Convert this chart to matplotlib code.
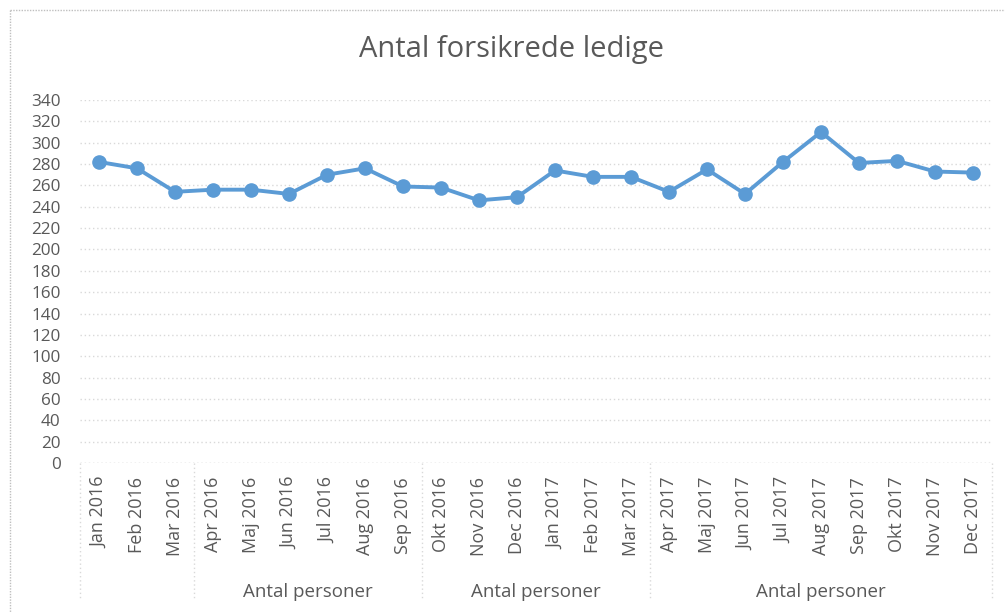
import matplotlib
matplotlib.use("Agg")
import matplotlib.pyplot as plt
from matplotlib.transforms import blended_transform_factory
from matplotlib.lines import Line2D

months = ["Jan 2016", "Feb 2016", "Mar 2016", "Apr 2016", "Maj 2016", "Jun 2016",
          "Jul 2016", "Aug 2016", "Sep 2016", "Okt 2016", "Nov 2016", "Dec 2016",
          "Jan 2017", "Feb 2017", "Mar 2017", "Apr 2017", "Maj 2017", "Jun 2017",
          "Jul 2017", "Aug 2017", "Sep 2017", "Okt 2017", "Nov 2017", "Dec 2017"]
values = [282, 276, 254, 256, 256, 252, 270, 276, 259, 258, 246, 249,
          274, 268, 268, 254, 275, 252, 282, 310, 281, 283, 273, 272]
group_bounds = [0, 3, 9, 15, 24]          # category index boundaries
group_labels = ["", "Antal personer", "Antal personer", "Antal personer"]
yticks = list(range(0, 341, 20))
title = "Antal forsikrede ledige"

TXT = "#595959"
GRID = "#D9D9D9"
BLUE = "#5B9BD5"
FONT = "Open Sans"

W, H = 1005, 613
fig = plt.figure(figsize=(W / 100, H / 100), dpi=100)
left, right, top, bottom = 80, 992, 100, 463
ax = fig.add_axes([left / W, 1 - bottom / H, (right - left) / W, (bottom - top) / H])

x = list(range(len(months)))
ax.plot(x, values, color=BLUE, lw=2.8, marker="o", ms=9.5, mfc=BLUE, mec=BLUE, zorder=3)

ax.set_xlim(-0.5, len(months) - 0.5)
ax.set_ylim(0, 340)
ax.set_yticks(yticks)
ax.set_yticklabels([str(v) for v in yticks], fontsize=12.3, color=TXT, family=FONT)
ax.set_xticks(x)
ax.set_xticklabels(months, rotation=90, fontsize=13, color=TXT, family=FONT)
ax.tick_params(axis="both", length=0)
ax.tick_params(axis="x", pad=10)
ax.tick_params(axis="y", pad=14)
for s in ax.spines.values():
    s.set_visible(False)
ax.grid(axis="y", color=GRID, linestyle=(0, (1, 2)), lw=1)
ax.set_axisbelow(True)
ax.axhline(0, color=GRID, linestyle=(0, (1, 2)), lw=1, zorder=1)

trans = blended_transform_factory(ax.transData, ax.transAxes)
ylow = -(600 - bottom) / (bottom - top)
for b in group_bounds:
    ax.plot([b - 0.5, b - 0.5], [0, ylow], transform=trans, color=GRID,
            linestyle=(0, (1, 2)), lw=1, clip_on=False)
ylab = -(592 - bottom) / (bottom - top)
for i, lab in enumerate(group_labels):
    if lab:
        cx = (group_bounds[i] + group_bounds[i + 1]) / 2 - 0.5
        ax.text(cx, ylab, lab, transform=trans, ha="center", va="center",
                fontsize=13.5, color=TXT, family=FONT)

fig.text(511 / W, 1 - 50 / H, title, ha="center", va="center",
         fontsize=21, color=TXT, family=FONT)

# chart border (top and left visible)
fig.add_artist(Line2D([10 / W, 10 / W], [1 - 10 / H, 0], transform=fig.transFigure,
                      color="#BFBFBF", lw=1, linestyle=(0, (1, 1))))
fig.add_artist(Line2D([10 / W, 1], [1 - 10 / H, 1 - 10 / H], transform=fig.transFigure,
                      color="#BFBFBF", lw=1, linestyle=(0, (1, 1))))

fig.savefig("out.png", dpi=100)
